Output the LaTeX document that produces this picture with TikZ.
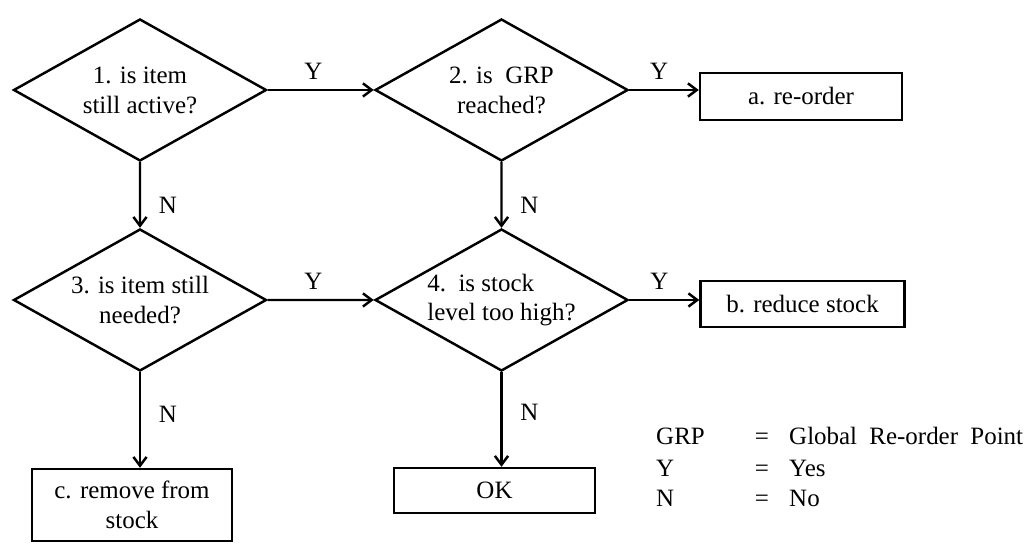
\documentclass[tikz,border=0pt]{standalone}
\usepackage{fontspec}
\setmainfont{Liberation Serif}
\usetikzlibrary{shapes.geometric,arrows.meta}

\begin{document}
\begin{tikzpicture}[scale=0.2, line width=1.4pt,
  font=\fontsize{14.2}{17}\selectfont,
  test/.style={diamond, draw, aspect=1.78, minimum width=5.06cm, minimum height=2.84cm, inner sep=0pt, align=center},
  act/.style={rectangle, draw, align=center},
  arr/.style={-{Straight Barb[length=5pt,width=7.5pt]}},
  lbl/.style={inner sep=0pt}]
\useasboundingbox (0,0) rectangle (103.5,-54.4);
% decisions
\node [test] (q1) at (14,-9) {1. is item\\still active?};
\node [test] (q2) at (50.15,-9) {2. is~~GRP\\reached?};
\node [test] (q3) at (14,-30) {3. is item still\\needed?};
\node [test, align=left] (q4) at (50.15,-30) {4.~~is stock\\level too high?};
% outcomes
\node [act, minimum width=4.04cm, minimum height=0.94cm] (ra) at (80.1,-9.65) {a. re-order};
\node [act, minimum width=4.08cm, minimum height=0.92cm] (rb) at (80.25,-30.4) {b. reduce stock};
\node [act, minimum width=4cm, minimum height=1.44cm] (rc) at (13.2,-50.5) {c. remove from\\stock};
\node [act, minimum width=4.02cm, minimum height=0.9cm] (ok) at (49.45,-49.05) {OK};
% yes branches
\draw [arr] (q1) -- node [lbl, pos=.43, above=5pt] {Y} (q2);
\draw [arr] (q3) -- node [lbl, pos=.43, above=5pt] {Y} (q4);
\draw [arr] (q2.east) -- node [lbl, pos=.43, above=5pt] {Y} (q2.east -| ra.west);
\draw [arr] (q4.east) -- node [lbl, pos=.43, above=5pt] {Y} (q4.east -| rb.west);
% no branches
\draw [arr] (q1) -- node [lbl, pos=.66, right=10pt] {N} (q3);
\draw [arr] (q2) -- node [lbl, pos=.66, right=10pt] {N} (q4);
\draw [arr] (q3.south) -- node [lbl, pos=.44, right=10pt] {N} (q3.south |- rc.north);
\draw [arr] (q4.south) -- node [lbl, pos=.42, right=10pt] {N} (q4.south |- ok.north);
% key
\node [lbl, anchor=base west] (grp) at (65.5,-44.5) {GRP};
\node [lbl, anchor=base] (grpeq) at (76.2,-44.5) {=};
\node [lbl, anchor=base west] (grptxt) at (78.8,-44.5) {\spaceskip=7pt Global Re-order Point};
\node [lbl, anchor=base west] (yes) at (65.5,-47.7) {Y};
\node [lbl, anchor=base] (yeseq) at (76.2,-47.7) {=};
\node [lbl, anchor=base west] (yestxt) at (78.8,-47.7) {Yes};
\node [lbl, anchor=base west] (no) at (65.5,-50.7) {N};
\node [lbl, anchor=base] (noeq) at (76.2,-50.7) {=};
\node [lbl, anchor=base west] (notxt) at (78.8,-50.7) {No};
\end{tikzpicture}
\end{document}
